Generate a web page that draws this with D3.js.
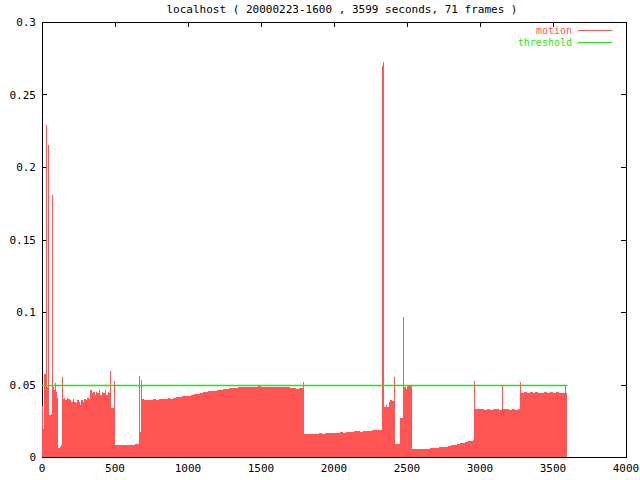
<!DOCTYPE html>
<html><head><meta charset="utf-8">
<script src="https://cdn.jsdelivr.net/npm/d3@7"></script>
<style>body{margin:0;background:#fff}svg{display:block}text{font-family:"DejaVu Sans Mono",monospace;font-size:11px}</style>
</head><body>
<script>
const title = "localhost ( 20000223-1600 , 3599 seconds, 71 frames )";
const xTicks = [0,500,1000,1500,2000,2500,3000,3500,4000];
const yTicks = [0,0.05,0.1,0.15,0.2,0.25,0.3];
const yTickLabels = ["0","0.05","0.1","0.15","0.2","0.25","0.3"];
const seriesNames = ["motion","threshold"];
const thresholdTimes = [0,3599];
const thresholdValues = [0.05,0.05];
const motionTimes = [0,8,15,24,28,35,42,49,60,68,75,82,89,95,103,108,120,131,136,143,150,160,170,180,190,200,210,220,230,240,250,260,270,280,290,300,310,320,330,340,350,360,370,380,390,400,410,420,430,440,450,460,466,473,493,500,520,540,560,580,600,620,640,655,666,673,680,687,700,720,740,760,780,800,820,840,860,880,900,920,940,960,980,1000,1020,1040,1060,1080,1100,1120,1140,1160,1180,1200,1220,1240,1260,1280,1300,1320,1340,1360,1380,1400,1420,1440,1460,1480,1500,1520,1540,1560,1580,1600,1620,1640,1660,1680,1700,1720,1740,1760,1780,1788,1795,1820,1840,1860,1880,1900,1920,1940,1960,1980,2000,2020,2040,2060,2080,2100,2120,2140,2160,2180,2200,2220,2240,2260,2280,2300,2320,2326,2333,2340,2355,2365,2375,2385,2400,2410,2418,2455,2470,2477,2490,2498,2536,2560,2580,2600,2620,2640,2660,2680,2700,2720,2740,2760,2780,2800,2820,2840,2860,2880,2900,2920,2940,2955,2960,2967,2990,3010,3030,3050,3070,3090,3110,3130,3150,3157,3180,3200,3220,3240,3260,3271,3278,3300,3320,3340,3360,3380,3400,3420,3440,3460,3480,3500,3520,3540,3560,3580,3587,3599];
const motionValues = [0.035,0.019,0.057,0.046,0.229,0.048,0.215,0.029,0.030,0.181,0.048,0.046,0.051,0.045,0.041,0.006,0.007,0.008,0.055,0.040,0.041,0.039,0.041,0.040,0.039,0.038,0.040,0.038,0.037,0.039,0.038,0.036,0.039,0.038,0.040,0.039,0.041,0.040,0.046,0.044,0.045,0.043,0.045,0.044,0.046,0.043,0.045,0.044,0.046,0.043,0.045,0.044,0.0595,0.034,0.0526,0.0083,0.0085,0.0080,0.0084,0.0082,0.0086,0.0084,0.0088,0.0092,0.056,0.0175,0.053,0.040,0.039,0.0395,0.039,0.0398,0.0395,0.040,0.0398,0.0403,0.0405,0.0402,0.041,0.0412,0.0415,0.0418,0.042,0.0422,0.0428,0.0432,0.0436,0.044,0.0445,0.0448,0.0452,0.0455,0.0458,0.0462,0.0465,0.0468,0.047,0.0474,0.0476,0.0478,0.048,0.0482,0.0483,0.0485,0.0484,0.0486,0.0485,0.0487,0.0485,0.0486,0.0484,0.0485,0.0486,0.0484,0.0483,0.0484,0.0482,0.048,0.0478,0.0475,0.0472,0.0473,0.0475,0.0515,0.0158,0.0160,0.0157,0.0162,0.0160,0.0163,0.0161,0.0165,0.0163,0.0166,0.0165,0.0168,0.0170,0.0168,0.0172,0.0174,0.0172,0.0176,0.0178,0.0175,0.0180,0.0182,0.0179,0.0184,0.0183,0.0186,0.0185,0.270,0.2726,0.0345,0.036,0.0345,0.038,0.039,0.0385,0.055,0.0088,0.027,0.0968,0.0485,0.047,0.050,0.0055,0.0052,0.0055,0.0054,0.0056,0.0058,0.006,0.0062,0.0064,0.0066,0.0068,0.0071,0.0075,0.0080,0.0085,0.009,0.0094,0.0098,0.0102,0.0108,0.0113,0.0117,0.0526,0.0330,0.0328,0.0332,0.0327,0.0330,0.0326,0.0331,0.0328,0.0325,0.049,0.0329,0.0332,0.0327,0.0330,0.0326,0.0329,0.052,0.0440,0.0445,0.0438,0.0446,0.0441,0.0447,0.0439,0.0444,0.0448,0.0440,0.0445,0.0442,0.0447,0.0439,0.0444,0.050,0.0443,0.0443];

const W=640,H=480, L=42,R=626,T=22,B=457;
const red="#ff5555", green="#1ee61e";
const x=d3.scaleLinear().domain([0,4000]).range([L,R]);
const y=d3.scaleLinear().domain([0,0.3]).range([B,T]);
const svg=d3.select("body").append("svg").attr("width",W).attr("height",H);

// frame
svg.append("rect").attr("x",L+0.5).attr("y",T+0.5).attr("width",R-L).attr("height",B-T)
  .attr("fill","none").attr("stroke","#000").attr("shape-rendering","crispEdges");
const tl=5;
const tg=svg.append("g").attr("stroke","#000").attr("shape-rendering","crispEdges");
xTicks.forEach(v=>{const px=Math.round(x(v))+0.5;
  tg.append("line").attr("x1",px).attr("x2",px).attr("y1",B).attr("y2",B-tl);
  tg.append("line").attr("x1",px).attr("x2",px).attr("y1",T).attr("y2",T+tl);});
yTicks.forEach(v=>{const py=Math.round(y(v))+0.5;
  tg.append("line").attr("x1",L).attr("x2",L+tl).attr("y1",py).attr("y2",py);
  tg.append("line").attr("x1",R).attr("x2",R-tl).attr("y1",py).attr("y2",py);});

// labels
svg.selectAll(".xl").data(xTicks).enter().append("text").attr("x",d=>x(d)).attr("y",472)
  .attr("text-anchor","middle").text(d=>d);
svg.selectAll(".yl").data(yTicks).enter().append("text").attr("x",36).attr("y",d=>y(d)+4)
  .attr("text-anchor","end").text((d,i)=>yTickLabels[i]);
svg.append("text").attr("x",342).attr("y",13).attr("text-anchor","middle").text(title);

// motion area
const motion=motionTimes.map((t,i)=>[t,motionValues[i]]);
const area=d3.area().x(d=>x(d[0])).y0(y(0)).y1(d=>y(d[1])).curve(d3.curveStepAfter);
svg.append("path").datum(motion).attr("d",area).attr("fill",red).attr("shape-rendering","crispEdges");

// threshold
const thr=thresholdTimes.map((t,i)=>[t,thresholdValues[i]]);
svg.append("path").datum(thr).attr("d",d3.line().x(d=>x(d[0])).y(d=>Math.round(y(d[1]))+0.5))
  .attr("fill","none").attr("stroke",green).attr("stroke-width",1.3);

// legend
const legColors=[red,green];
seriesNames.forEach((n,i)=>{const ly=30+i*12;
  svg.append("text").attr("x",572).attr("y",ly+3.5).attr("text-anchor","end").attr("fill",legColors[i])
    .style("font-size","10px").text(n);
  svg.append("line").attr("x1",578).attr("x2",612).attr("y1",ly+0.5).attr("y2",ly+0.5).attr("stroke",legColors[i]).attr("stroke-width",1.2);});
</script>
</body></html>
